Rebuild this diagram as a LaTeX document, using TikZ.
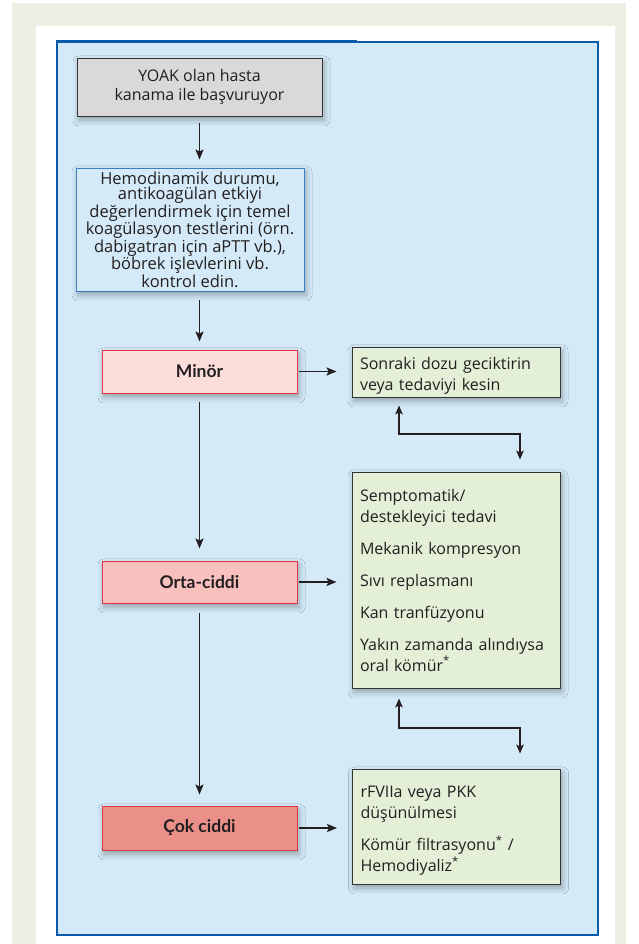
\documentclass[tikz,border=0pt]{standalone}
\usepackage{fontspec}
\setmainfont{Open Sans}
\newfontfamily\labelfont{Lato}
\usetikzlibrary{arrows.meta,shadows.blur,calc}
\definecolor{beigebg}{HTML}{EEEEE4}
\definecolor{bluebg}{HTML}{D4EAF8}
\definecolor{frameblue}{HTML}{0A5CA8}
\definecolor{boxblue}{HTML}{3C7EC0}
\definecolor{graybg}{HTML}{D9D9DB}
\definecolor{darkline}{HTML}{333333}
\definecolor{redline}{HTML}{E0334A}
\definecolor{minorbg}{HTML}{FCDDDA}
\definecolor{ortabg}{HTML}{F8C1BD}
\definecolor{cokbg}{HTML}{EB8F89}
\definecolor{greenbg}{HTML}{E3EFD6}
\definecolor{txt}{HTML}{231F20}
\newcommand{\lowtxt}[2]{\raisebox{-#1}[\height][\depth]{\begin{tabular}{@{}l@{}}#2\end{tabular}}}
\tikzset{
  shad/.style={blur shadow={shadow xshift=2pt,shadow yshift=-4pt,shadow blur radius=6pt,shadow opacity=32}},
  graybox/.style={draw=darkline,line width=0.9pt,fill=graybg,shad,align=center,inner sep=0pt,text=txt,
    font={\fontsize{16pt}{19pt}\selectfont}},
  bluebox/.style={draw=boxblue,line width=0.9pt,fill=bluebg,shad,align=center,inner sep=0pt,text=txt,
    font={\fontsize{16.5pt}{15.4pt}\selectfont}},
  sevbox/.style={draw=redline,line width=0.9pt,shad,inner sep=0pt,minimum width=195pt,text=txt,
    font={\labelfont\fontsize{17.5pt}{18pt}\selectfont\bfseries}},
  greenbox/.style={draw=darkline,line width=0.9pt,fill=greenbg,shad,align=left,inner xsep=8pt,inner ysep=0pt,text=txt,
    text width=192pt,font={\fontsize{16pt}{21pt}\selectfont}},
  arr/.style={-{Stealth[length=10pt,width=8pt,inset=2pt]},line width=1.6pt,draw=txt},
  dblarr/.style={{Stealth[length=9pt,width=7.5pt,inset=2pt]}-{Stealth[length=9pt,width=7.5pt,inset=2pt]},line width=1.3pt,draw=txt}
}
\begin{document}
\begin{tikzpicture}[x=1pt,y=1pt]
\useasboundingbox (0,0) rectangle (638,944);
\fill[white] (0,0) rectangle (638,944);
\fill[beigebg] (12,0) rectangle (626,941);
\fill[white] (36,0) rectangle (615,918);
\draw[frameblue,line width=2pt,fill=bluebg] (57,9) rectangle (598,902);
\draw[frameblue,line width=3pt] (56,902) -- (357,902);

\node[graybox,minimum width=245pt,minimum height=58pt] (start) at (199.5,857) {YOAK olan hasta\\kanama ile başvuruyor};
\node[bluebox,minimum width=228pt,minimum height=123pt] (check) at (190,714.5) {Hemodinamik durumu,\\antikoagülan etkiyi\\değerlendirmek için temel\\koagülasyon testlerini (örn.\\dabigatran için aPTT vb.),\\böbrek işlevlerini vb.\\kontrol edin.};

\node[sevbox,fill=minorbg,minimum height=43pt] (minor) at (199.5,572.5) {Minör};
\node[sevbox,fill=ortabg,minimum height=42pt] (orta) at (199.5,362) {Orta-ciddi};
\node[sevbox,fill=cokbg,minimum height=44pt] (cok) at (199.5,116) {Çok ciddi};

\node[greenbox,minimum height=50pt] (g1) at (456,572) {\lowtxt{4pt}{Sonraki dozu geciktirin\\veya tedaviyi kesin}};
\node[greenbox,minimum height=216pt] (g2) at (456,364) {\lowtxt{2pt}{Semptomatik/\\destekleyici tedavi\\[11pt]Mekanik kompresyon\\[11pt]Sıvı replasmanı\\[11pt]Kan tranfüzyonu\\[11pt]Yakın zamanda alındıysa\\oral kömür\textsuperscript{*}}};
\node[greenbox,minimum height=115pt] (g3) at (456.5,117.5) {\lowtxt{4pt}{rFVIIa veya PKK\\düşünülmesi\\[11pt]Kömür filtrasyonu\textsuperscript{*} /\\Hemodiyaliz\textsuperscript{*}}};

\draw[arr,shorten <=7pt,shorten >=8pt] (start.south) -- (start.south |- check.north);
\draw[arr,shorten <=9pt,shorten >=8pt] (check.south -| minor) -- (minor);
\draw[arr,shorten <=9pt,shorten >=12pt] (minor) -- (orta);
\draw[arr,shorten <=10pt,shorten >=11pt] (orta) -- (cok);

\draw[arr,shorten <=2pt,shorten >=15pt] (minor.east) -- (g1.west |- minor.east);
\draw[arr,shorten <=2pt,shorten >=15pt] (orta.east) -- (g2.west |- orta.east);
\draw[arr,shorten <=2pt,shorten >=15pt] (cok.east) -- (g3.west |- cok.east);

\coordinate (ca) at (399,0);
\coordinate (cb) at (520,510);
\coordinate (cc) at (520,216);
\draw[dblarr,shorten <=8pt,shorten >=12pt] (ca |- g1.south) |- (cb) -- (cb |- g2.north);
\draw[dblarr,shorten <=10pt,shorten >=15pt] (ca |- g2.south) |- (cc) -- (cc |- g3.north);
\end{tikzpicture}
\end{document}
